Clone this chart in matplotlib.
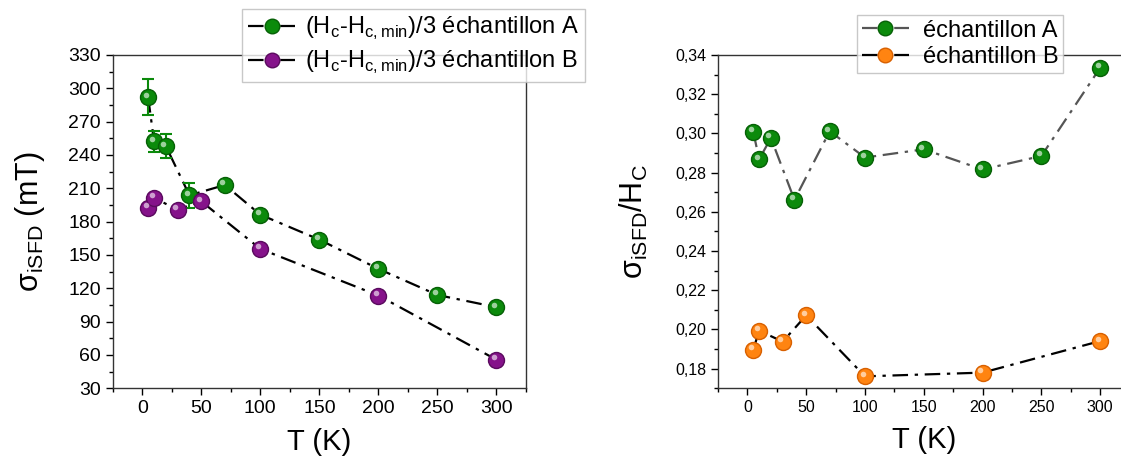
import matplotlib.pyplot as plt
from matplotlib.ticker import MultipleLocator, FixedLocator, FuncFormatter
from matplotlib.transforms import offset_copy

plt.rcParams['font.family'] = ['Liberation Sans', 'DejaVu Sans']

# left panel data
T_A = [5, 10, 20, 40, 70, 100, 150, 200, 250, 300]
sig_A = [292, 252.5, 248, 203.7, 213, 186.3, 163.8, 137.5, 114, 103]
err_A = [16, 9.5, 10.5, 11.5, 0, 0, 0, 0, 0, 0]
T_B = [5, 10, 30, 50, 100, 200, 300]
sig_B = [192.3, 201.3, 190.8, 198.3, 155.5, 113.5, 55.7]

# right panel data
ratio_A = [0.3008, 0.2868, 0.2977, 0.2661, 0.3011, 0.2877, 0.2919, 0.2816, 0.2885, 0.3335]
ratio_B = [0.1897, 0.1994, 0.1938, 0.2072, 0.1761, 0.1780, 0.1941]

xticks = [0, 50, 100, 150, 200, 250, 300]

green = '#0b8a0b'
purple = '#85128a'
orange = '#ff8411'

W, H = 1121, 463
fig = plt.figure(figsize=(W/100, H/100), dpi=100)
ax1 = fig.add_axes([112.7/W, 1-388.3/H, 413.3/W, 333.3/H])
ax2 = fig.add_axes([718/W, 1-388.3/H, 411.6/W, 333.3/H])

dashdot = (0, (7, 3, 1.5, 3))


def ball(ax, x, y, col, edge, label, lcol='black'):
    ax.plot(x, y, ls=dashdot, color=lcol, lw=1.6, zorder=2)
    ax.plot(x, y, 'o', ms=11.5, color=col, mec=edge, mew=1, zorder=3)
    tr = offset_copy(ax.transData, fig=fig, x=-2.5, y=2.5, units='dots')
    ax.plot(x, y, 'o', ms=4, color='white', alpha=0.6, mew=0, transform=tr, zorder=4)
    h, = ax.plot([], [], ls=dashdot, color=lcol, lw=1.6, marker='o',
                 ms=10.5, mfc=col, mec=edge, label=label)
    return h


ax1.errorbar(T_A, sig_A, yerr=err_A, fmt='none', ecolor=green, elinewidth=1.5,
             capsize=4, capthick=1.5, zorder=2.5)
hA = ball(ax1, T_A, sig_A, green, '#066006', r'(H$_\mathregular{c}$-H$_\mathregular{c,min}$)/3 échantillon A')
hB = ball(ax1, T_B, sig_B, purple, '#5a0a5e', r'(H$_\mathregular{c}$-H$_\mathregular{c,min}$)/3 échantillon B')

ax1.set_xlim(-25, 325)
ax1.set_ylim(30, 330)
ax1.xaxis.set_major_locator(FixedLocator(xticks))
ax1.xaxis.set_minor_locator(MultipleLocator(25))
ax1.yaxis.set_major_locator(MultipleLocator(30))
ax1.yaxis.set_minor_locator(MultipleLocator(15))
ax1.tick_params(which='major', direction='out', length=5, width=1, labelsize=14)
ax1.tick_params(which='minor', direction='out', length=3, width=1)
ax1.set_xlabel('T (K)', fontsize=21, labelpad=8)
ax1.set_ylabel('σ$_\\mathregular{iSFD}$ (mT)', fontsize=22)
ax1.yaxis.set_label_coords(-0.16, 0.5)
fig.legend(handles=[hA, hB], loc='upper left', bbox_to_anchor=(242/W, 1-9/H),
           fontsize=17, frameon=True, fancybox=False, edgecolor='#bbbbbb',
           borderpad=0.25, labelspacing=0.3, handlelength=2.0, handletextpad=0.4,
           borderaxespad=0)

hA2 = ball(ax2, T_A, ratio_A, green, '#066006', 'échantillon A', lcol='#555555')
hB2 = ball(ax2, T_B, ratio_B, orange, '#d86000', 'échantillon B')

ax2.set_xlim(-25, 325)
ax2.set_ylim(0.17, 0.34)
ax2.xaxis.set_major_locator(FixedLocator(xticks))
ax2.xaxis.set_minor_locator(MultipleLocator(25))
ax2.yaxis.set_major_locator(MultipleLocator(0.02))
ax2.yaxis.set_minor_locator(MultipleLocator(0.01))
ax2.yaxis.set_major_formatter(FuncFormatter(lambda v, p: f'{v:.2f}'.replace('.', ',')))
ax2.tick_params(which='major', direction='out', length=5, width=1, labelsize=11.5)
ax2.tick_params(which='minor', direction='out', length=3, width=1)
ax2.spines['right'].set_visible(False)
ax2.set_xlabel('T (K)', fontsize=21, labelpad=8)
ax2.set_ylabel('σ$_\\mathregular{iSFD}$/H$_\\mathregular{C}$', fontsize=22)
ax2.yaxis.set_label_coords(-0.165, 0.5)
fig.legend(handles=[hA2, hB2], loc='upper left', bbox_to_anchor=(857/W, 1-15/H),
           fontsize=17, frameon=True, fancybox=False, edgecolor='#bbbbbb',
           borderpad=0.2, labelspacing=0.2, handlelength=2.0, handletextpad=0.6,
           borderaxespad=0)

for ax in (ax1, ax2):
    for s in ax.spines.values():
        s.set_linewidth(1)
        s.set_color('#333333')

fig.savefig('out.png', dpi=100)
